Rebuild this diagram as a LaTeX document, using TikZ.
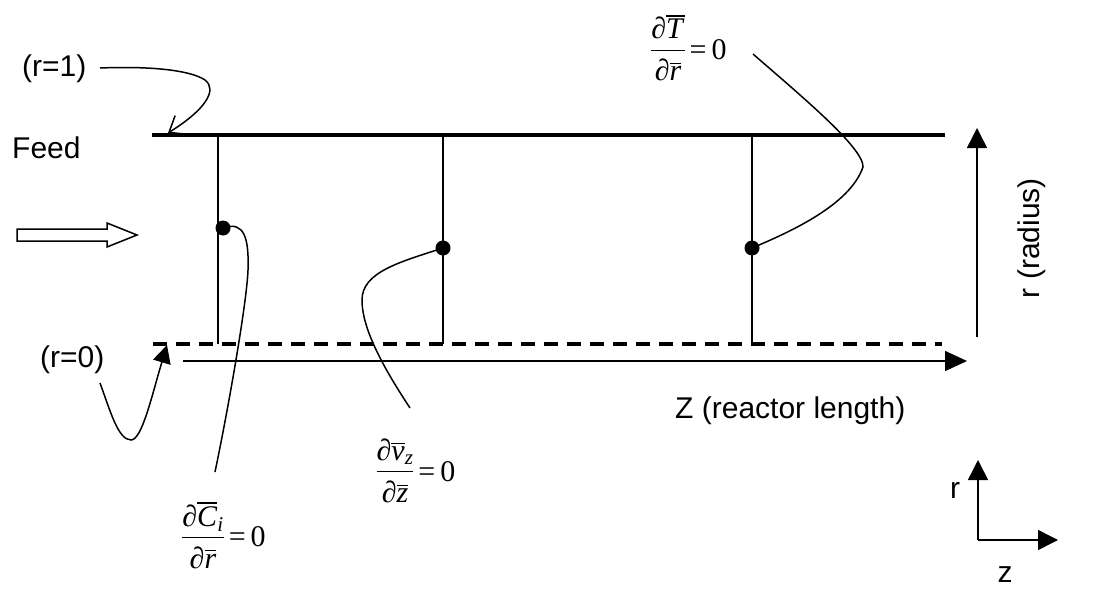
\documentclass[tikz,border=0pt]{standalone}
\usepackage{fontspec}
\setmainfont{Liberation Serif}
\setsansfont{Liberation Sans}
\usetikzlibrary{arrows.meta}
\newcommand{\ovl}[1]{\leavevmode\vbox{\hrule height 1.2pt\kern2.6pt\hbox{#1}}}
\newcommand{\bcfrac}[2]{\begin{tabular}{@{}c@{}}#1\\[1pt]\hline\rule{0pt}{30pt}#2\end{tabular}}
\setlength{\arrayrulewidth}{1.4pt}
\begin{document}
\begin{tikzpicture}[x=1pt,y=-1pt,
  thinline/.style={line width=1.5pt},
  wall/.style={line width=3.5pt},
  lbl/.style={font=\sffamily\fontsize{30}{36}\selectfont, inner sep=0pt},
  mathlbl/.style={font=\fontsize{30}{32}\selectfont, inner sep=0pt},
  dot/.style={circle, fill=black, minimum size=15pt, inner sep=0pt},
  lead/.style={line width=1.5pt},
  tri/.style={-{Triangle[length=20pt,width=20pt]}}
]
\useasboundingbox (0,0) rectangle (1095,602);

% reactor walls and axis
\coordinate (topL) at (152,135);
\coordinate (topR) at (945,135);
\coordinate (dashL) at (153,344);
\coordinate (dashR) at (942,344);
\coordinate (zL) at (183,361);
\coordinate (zR) at (967,361);
\draw[wall] (topL) -- (topR);
\draw[wall, dash pattern=on 14pt off 9pt] (dashL) -- (dashR);
\draw[thinline, -{Triangle[length=22pt,width=20pt]}] (zL) -- (zR);

% vertical stations
\coordinate (v1t) at (218,135); \coordinate (v1b) at (218,344);
\coordinate (v2t) at (443,135); \coordinate (v2b) at (443,344);
\coordinate (v3t) at (752,135); \coordinate (v3b) at (752,344);
\draw[thinline] (v1t) -- (v1b);
\draw[thinline] (v2t) -- (v2b);
\draw[thinline] (v3t) -- (v3b);

% radius arrow
\coordinate (ra) at (977,337);
\coordinate (rb) at (977,128);
\draw[thinline, tri] (ra) -- (rb);

% feed arrow (hollow)
\draw[thinline, line join=miter] (17,229) -- (107,229) -- (107,223) -- (137,235)
  -- (107,247) -- (107,241) -- (17,241) -- cycle;

% labels
\node[lbl, anchor=base west] (feed) at (12,158) {Feed};
\node[lbl, anchor=base west] (r1) at (22,77) {(r=1)};
\node[lbl, anchor=base west] (r0) at (40,367) {(r=0)};
\node[lbl, anchor=base west] (zlab) at (675,418) {Z (reactor length)};
\node[lbl, rotate=90] (rlab) at (1032,238) {r (radius)};
\node[lbl, anchor=base] (rs) at (955,498) {r};
\node[lbl, anchor=base] (zs) at (1005,582) {z};

\node[mathlbl] (bcT) at (689,53)
  {\bcfrac{∂\ovl{\textit{T}}}{∂\ovl{\textit{r}}}\hspace{5pt}=\hspace{5pt}0};
\node[mathlbl] (bcC) at (224,540)
  {\bcfrac{∂\ovl{\textit{C}}\textsubscript{\textit{i}}}{∂\ovl{\textit{r}}}\hspace{5pt}=\hspace{5pt}0};
\node[mathlbl] (bcV) at (416,475)
  {\bcfrac{∂\ovl{\textit{v}}\textsubscript{\textit{z}}}{∂\ovl{\textit{z}}}\hspace{5pt}=\hspace{5pt}0};

% leader curves
\coordinate (r1s) at (100,68);
\coordinate (r1t) at (168,133);
\draw[lead, -{Straight Barb[length=14pt,width=22pt]}] (r1s) .. controls (150,66) and (190,70) .. (205,80)
  .. controls (218,90) and (205,110) .. (r1t);

\coordinate (r0s) at (100,383);
\coordinate (r0t) at (167,345);
\draw[lead, -{Triangle[length=18pt,width=18pt]}] (r0s) .. controls (110,410) and (118,440) .. (131,440)
  .. controls (142,440) and (152,395) .. (r0t);

\node[dot] (d1) at (223,228) {};
\node[dot] (d2) at (443,248) {};
\node[dot] (d3) at (752,248) {};

\coordinate (c1e) at (215,472);
\coordinate (c2e) at (410,408);
\coordinate (c3e) at (753,54);
\draw[lead] (d1.center) .. controls (245,220) and (249,240) .. (248,270)
  .. controls (247,300) and (230,400) .. (c1e);
\draw[lead] (d2.center) .. controls (400,262) and (362,272) .. (362,300)
  .. controls (362,330) and (385,370) .. (c2e);
\draw[lead] (d3.center) .. controls (790,232) and (850,205) .. (863,167)
  .. controls (864,148) and (800,95) .. (c3e);

% small coordinate axes
\coordinate (o) at (978,540);
\coordinate (oy) at (978,460);
\coordinate (ox) at (1058,540);
\draw[thinline, tri] (o) -- (oy);
\draw[thinline, tri] (o) -- (ox);
\end{tikzpicture}
\end{document}
